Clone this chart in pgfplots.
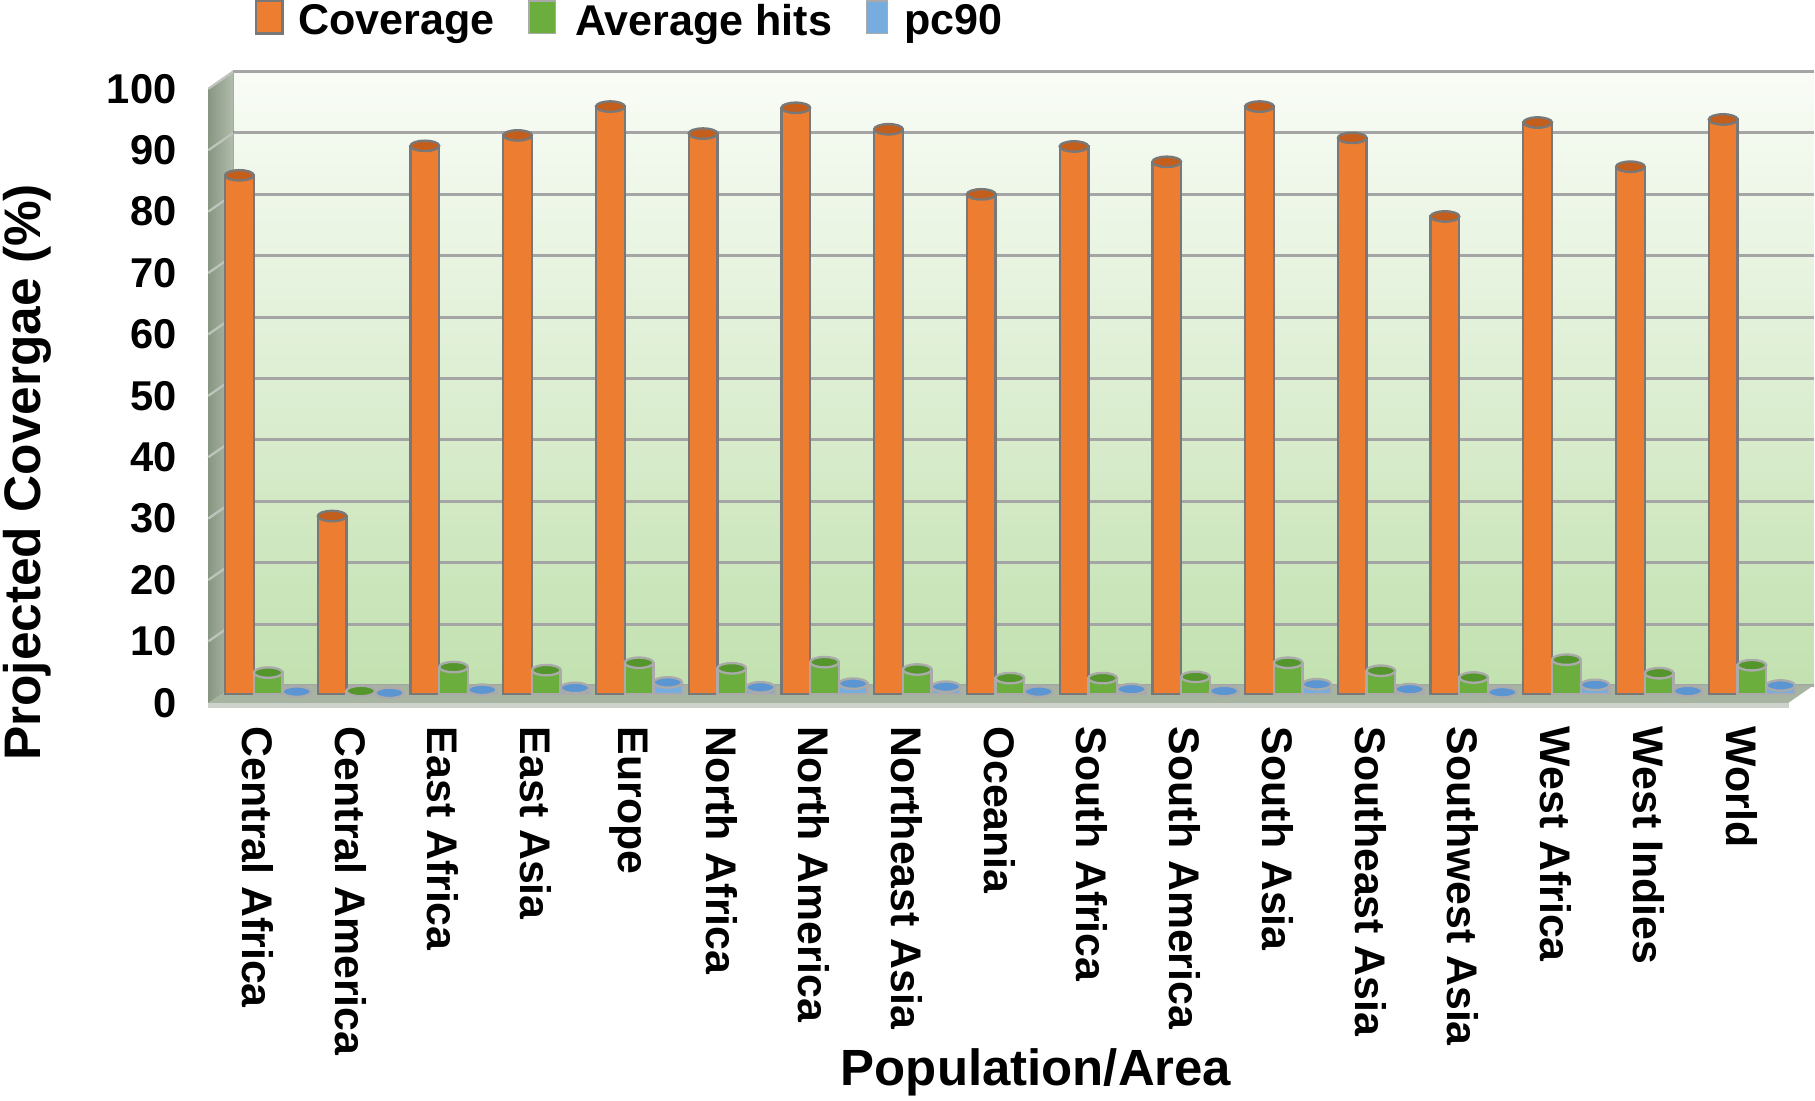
\documentclass[border=0pt]{standalone}
\usepackage{pgfplots}
\pgfplotsset{compat=1.18}
\usepackage{fontspec}
\setmainfont{Liberation Sans}
\usetikzlibrary{shapes.geometric}
\definecolor{cOr}{RGB}{237,125,49}
\definecolor{cOrCap}{RGB}{196,94,28}
\definecolor{cGr}{RGB}{108,174,62}
\definecolor{cGrCap}{RGB}{84,150,44}
\definecolor{cBl}{RGB}{118,172,222}
\definecolor{cBlCap}{RGB}{92,150,210}
\definecolor{cEdge}{RGB}{120,120,120}
\definecolor{cEdgeL}{RGB}{170,170,170}
\definecolor{cGrid}{RGB}{165,165,165}
\definecolor{cGridS}{RGB}{190,196,188}
\definecolor{wallTop}{RGB}{249,252,246}
\definecolor{wallBot}{RGB}{194,225,176}
\definecolor{sideA}{RGB}{135,150,130}
\definecolor{sideB}{RGB}{178,188,172}
\definecolor{floorC}{RGB}{168,180,162}
\definecolor{floorF}{RGB}{205,210,202}
\begin{document}
\begin{tikzpicture}
\begin{axis}[
  scale only axis, width=682.75pt, height=265.25pt,
  clip=false,
  xmin=-0.51, xmax=16.53, ymin=0, ymax=100,
  ytick={0,10,...,100},
  xtick={0,...,16},
  xticklabels={Central Africa,Central America,East Africa,East Asia,Europe,North Africa,North America,Northeast Asia,Oceania,South Africa,South America,South Asia,Southeast Asia,Southwest Asia,West Africa,West Indies,World},
  major tick length=0pt,
  axis line style={draw=none},
  ymajorgrids=true,
  major grid style={draw=cGrid, line width=1.3pt, xshift=5.4pt, yshift=3.75pt},
  axis background/.style={shade, top color=wallTop, bottom color=wallBot, xshift=5.4pt, yshift=3.75pt},
  /pgf/number format/assume math mode=true,
  yticklabel style={font=\fontsize{18}{20}\selectfont\bfseries, inner sep=0pt, anchor=east, xshift=-19pt, yshift=-3.75pt},
  xticklabel style={font=\fontsize{18.5}{20}\selectfont\bfseries, inner sep=0pt, xshift=-4.5pt, yshift=-14pt, rotate=-90, anchor=west},
  xlabel={Population/Area},
  xlabel style={at={(axis description cs:0.508,-0.6296)}, anchor=center, inner sep=0pt, font=\fontsize{22}{26}\selectfont\bfseries},
  ylabel={Projected Covergae (\%)},
  ylabel style={at={(axis description cs:-0.1301,0.347)}, anchor=center, inner sep=0pt, font=\fontsize{22.2}{26}\selectfont\bfseries},
  ybar=0pt, bar width=12.4pt,
  nodes near coords={},
  every node near coord/.append style={ellipse, inner sep=0pt, outer sep=0pt, minimum width=12.4pt, minimum height=4.5pt, yshift=-2.25pt},
  legend style={at={(axis description cs:0.0132,1.0849)}, anchor=west, draw=none, fill=none, inner sep=0pt,
     nodes={inner ysep=0pt},
     font=\fontsize{18.6}{20}\selectfont\bfseries, legend columns=-1,
     /tikz/every even column/.append style={column sep=12.5pt}},
]
% decorative side wall and floor
\fill[left color=sideA, right color=sideB]
  ([xshift=-5.4pt,yshift=-3.75pt]rel axis cs:0,0) -- ([xshift=-5.4pt,yshift=-3.75pt]rel axis cs:0,1)
  -- ([xshift=5.4pt,yshift=3.75pt]rel axis cs:0,1) -- ([xshift=5.4pt,yshift=3.75pt]rel axis cs:0,0) -- cycle;
\pgfplotsinvokeforeach{0.1,0.2,0.3,0.4,0.5,0.6,0.7,0.8,0.9,1}{
  \draw[cGridS, line width=1pt] ([xshift=-5.4pt,yshift=-3.75pt]rel axis cs:0,#1) -- ([xshift=5.4pt,yshift=3.75pt]rel axis cs:0,#1);
}
\fill[floorC]
  ([xshift=-5.4pt,yshift=-3.75pt]rel axis cs:0,0) -- ([xshift=-5.4pt,yshift=-3.75pt]rel axis cs:1,0)
  -- ([xshift=5.4pt,yshift=3.75pt]rel axis cs:1,0) -- ([xshift=5.4pt,yshift=3.75pt]rel axis cs:0,0) -- cycle;
\fill[floorF]
  ([xshift=-5.4pt,yshift=-3.75pt]rel axis cs:0,0) -- ([xshift=-5.4pt,yshift=-3.75pt]rel axis cs:1,0)
  -- ([xshift=-5.4pt,yshift=-6pt]rel axis cs:1,0) -- ([xshift=-5.4pt,yshift=-6pt]rel axis cs:0,0) -- cycle;
\path ([xshift=-95.4pt,yshift=-175.75pt]rel axis cs:0,0) rectangle ([xshift=5.4pt,yshift=34pt]rel axis cs:1,1);

\addplot[fill=cOr, draw=cEdge, line width=1pt,
  every node near coord/.append style={fill=cOrCap, draw=cEdge, line width=1pt},
  legend image code/.code={\draw[fill=cOr, draw=cEdge, line width=1pt] (0pt,-5.25pt) rectangle (11.5pt,8.75pt); \path[draw=none,fill=none] (0pt,0pt) -- (16.5pt,0pt);}]
coordinates {(0,84.5) (1,29.0) (2,89.3) (3,91.0) (4,95.7) (5,91.3) (6,95.5) (7,92.0) (8,81.4) (9,89.2) (10,86.7) (11,95.7) (12,90.6) (13,77.8) (14,93.1) (15,85.9) (16,93.6)};
\addlegendentry{Coverage}
\addplot[fill=cGr, draw=cEdgeL, line width=1pt,
  every node near coord/.append style={fill=cGrCap, draw=cEdgeL, line width=1pt},
  legend image code/.code={\draw[fill=cGr, draw=cEdgeL, line width=0.6pt] (0pt,-5.25pt) rectangle (11.5pt,8.75pt); \path[draw=none,fill=none] (0pt,0pt) -- (18pt,0pt);}]
coordinates {(0,3.5) (1,0.5) (2,4.4) (3,3.9) (4,5.1) (5,4.2) (6,5.2) (7,4.0) (8,2.6) (9,2.6) (10,2.8) (11,5.1) (12,3.8) (13,2.7) (14,5.6) (15,3.4) (16,4.7)};
\addlegendentry{Average hits}
\addplot[fill=cBl, draw=cEdgeL, line width=1pt,
  every node near coord/.append style={fill=cBlCap, draw=cEdgeL, line width=1pt},
  legend image code/.code={\draw[fill=cBl, draw=cEdgeL, line width=0.6pt] (0pt,-5.25pt) rectangle (9pt,8.75pt); \path[draw=none,fill=none] (0pt,0pt) -- (14.5pt,0pt);}]
coordinates {(0,0.4) (1,0.2) (2,0.7) (3,1.0) (4,1.9) (5,1.1) (6,1.7) (7,1.2) (8,0.4) (9,0.8) (10,0.5) (11,1.6) (12,0.8) (13,0.3) (14,1.5) (15,0.5) (16,1.4)};
\addlegendentry{pc90}
\end{axis}
\end{tikzpicture}
\end{document}
